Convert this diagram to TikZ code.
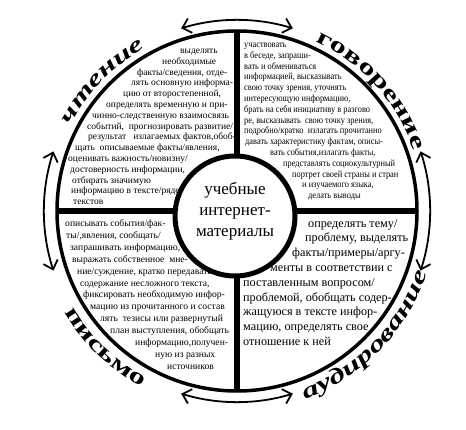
\documentclass[tikz,border=0pt]{standalone}
\usepackage{fontspec}
\setmainfont{Liberation Serif}
\newfontfamily\widefont[FakeStretch=1.5]{Liberation Serif}
\newfontfamily\narrowfont[FakeStretch=0.88]{Liberation Serif}
\usetikzlibrary{arrows.meta,decorations.text}

\newcommand{\skillfont}{\widefont\bfseries\fontsize{22}{22}\selectfont}
\newcommand{\skillfontit}{\widefont\bfseries\itshape\fontsize{22}{22}\selectfont}

\tikzset{
  ring/.style={line width=3.5pt},
  hub/.style={line width=5pt, fill=white},
  bar/.style={line width=6pt},
  swap arrow/.style={line width=1.8pt,
    {Straight Barb[length=8pt,width=15pt]}-{Straight Barb[length=8pt,width=15pt]}},
  skills/.style={inner sep=0pt, anchor=north west, align=left},
  small skills/.style={skills, font=\fontsize{9.5}{10.8}\selectfont},
  narrow skills/.style={skills, font=\narrowfont\fontsize{9.5}{10.8}\selectfont},
  mid skills/.style={skills, font=\fontsize{9.6}{11.9}\selectfont},
  big skills/.style={skills, font=\fontsize{12.2}{14.8}\selectfont},
  hubtext/.style={align=center, inner sep=0pt, font=\fontsize{17}{21}\selectfont},
  skill arc/.style={decorate, decoration={text along path, text align=center, text={#1}}}
}

\begin{document}
\begin{tikzpicture}[x=1pt,y=1pt]
\useasboundingbox (0,0) rectangle (466,429);
\begin{scope}[shift={(237,218)}]
% dividers
\draw[bar] (0,180) -- (0,-180);
\draw[bar] (-180,0) -- (180,0);
\draw[ring] (0,0) circle [radius=180pt];
% arrows round the wheel
\draw[swap arrow] (73:191pt) arc (73:107:191pt);
\draw[swap arrow] (162:193pt) arc (162:198:193pt);
\draw[swap arrow] (253:191pt) arc (253:287:191pt);
\draw[swap arrow] (-18:193pt) arc (-18:18:193pt);
% skill names
\path[skill arc={|\skillfontit|чтение}] (175:187pt) arc (175:97:187pt);
\path[skill arc={|\skillfont|говорение}] (85:187pt) arc (85:-1:187pt);
\path[skill arc={|\skillfont|письмо}] (186:200pt) arc (186:266:200pt);
\path[skill arc={|\skillfontit|аудирование}] (272:200pt) arc (272:360:200pt);
\end{scope}

\draw[hub] (235,213) circle [radius=60pt];
\node[hubtext] (core) at (235,218) {учебные\\интернет-\\материалы};

\node[small skills] (reading) at (68,383.3) {%
\hspace*{112pt}\strut выделять\\
\hspace*{94pt}необходимые\\
\hspace*{69pt}факты/сведения, отде-\\
\hspace*{63pt}лять основную информа-\\
\hspace*{55pt}цию от второстепенной,\\
\hspace*{38pt}определять временную и при-\\
\hspace*{24pt}чинно-следственную взаимосвязь\\
\hspace*{19pt}событий, \ прогнозировать развитие/\\
\hspace*{20pt}результат \ \ излагаемых фактов,обоб-\\
\hspace*{7pt}щать \ описываемые факты/явления,\\
оценивать важность/новизну/\\
\hspace*{2pt}достоверность информации,\\
\hspace*{4pt}отбирать значимую\\
\hspace*{3pt}информацию в тексте/ряде\\
\hspace*{5pt}текстов};

\node[narrow skills] (speaking) at (244,389.3) {%
\strut участвовать\\
в беседе, запраши-\\
вать и обмениваться\\
информацией, высказывать\\
свою точку зрения, уточнять\\
интересующую информацию,\\
брать на себя инициативу в разгово\\
ре, высказывать \ свою точку зрения,\\
подробно/кратко \ излагать прочитанно\\
\hspace*{1pt}давать характеристику фактам, описы-\\
\hspace*{26pt}вать события,излагать факты,\\
\hspace*{39pt}представлять социокультурный\\
\hspace*{48pt}портрет своей страны и стран\\
\hspace*{58pt}и изучаемого языка,\\
\hspace*{64pt}делать выводы};

\node[mid skills] (writing) at (65,211) {%
\strut описывать события/фак-\\
\hspace*{1pt}ты/,явления, сообщать/\\
\hspace*{5pt}запрашивать информацию,\\
\hspace*{7pt}выражать собственное \ мне-\\
\hspace*{12pt}ние/суждение, кратко передавать\\
\hspace*{15pt}содержание несложного текста,\\
\hspace*{18pt}фиксировать необходимую инфор-\\
\hspace*{25pt}мацию из прочитанного и состав\\
\hspace*{35pt}лять \ тезисы или развернутый\\
\hspace*{45pt}план выступления, обобщать\\
\hspace*{70pt}информацию,получен-\\
\hspace*{90pt}ную из разных\\
\hspace*{102pt}источников};

\node[big skills] (listening) at (243,212.5) {%
\hspace*{65pt}\strut определять тему/\\
\hspace*{62pt}проблему, выделять\\
\hspace*{49pt}факты/примеры/аргу-\\
\hspace*{27pt}менты в соответствии с\\
поставленным вопросом/\\
проблемой, обобщать содер-\\
жащуюся в тексте инфор-\\
мацию, определять свое\\
отношение к ней};
\end{tikzpicture}
\end{document}
